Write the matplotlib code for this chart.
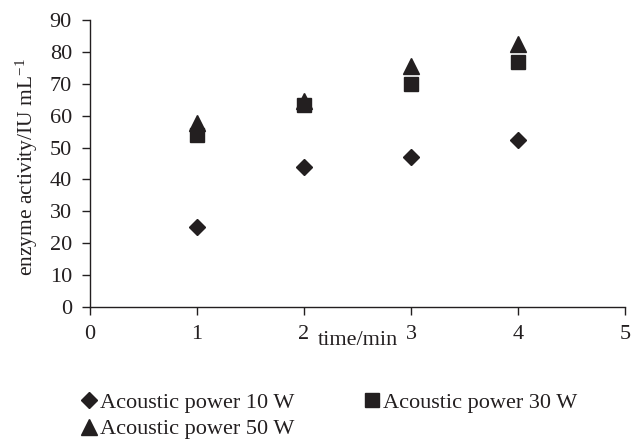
import matplotlib
matplotlib.use("Agg")
import matplotlib.pyplot as plt

plt.rcParams['font.family'] = ['Liberation Serif', 'DejaVu Serif']
plt.rcParams['mathtext.fontset'] = 'custom'
plt.rcParams['mathtext.rm'] = 'Liberation Serif'
plt.rcParams['mathtext.it'] = 'Liberation Serif:italic'

time = [1, 2, 3, 4]
p10 = [25.2, 44.0, 47.1, 52.4]
p30 = [53.9, 63.2, 70.0, 76.8]
p50 = [57.8, 64.7, 75.5, 82.6]
labels = ["Acoustic power 10 W", "Acoustic power 30 W", "Acoustic power 50 W"]

INK = '#231f20'
fig = plt.figure(figsize=(6.41, 4.43), dpi=100)
ax = fig.add_axes([90/641, 1-307/443, 535/641, 287/443])

h50, = ax.plot(time, p50, linestyle='none', marker='^', color=INK, markersize=11, zorder=2)
h30, = ax.plot(time, p30, linestyle='none', marker='s', color=INK, markersize=10.5, zorder=3)
h10, = ax.plot(time, p10, linestyle='none', marker='D', color=INK, markersize=8, zorder=3)

ax.set_xlim(0, 5)
ax.set_ylim(0, 90)
ax.set_xticks(range(0, 6))
ax.set_yticks(range(0, 91, 10))
for s in ['top', 'right']:
    ax.spines[s].set_visible(False)
for s in ['left', 'bottom']:
    ax.spines[s].set_color(INK)
    ax.spines[s].set_linewidth(1.0)
ax.tick_params(axis='both', direction='out', length=6, width=1.0, color=INK,
               labelsize=16, labelcolor=INK)
ax.tick_params(axis='x', pad=7)
ax.tick_params(axis='y', pad=7)

ax.text(228/535, -38/287, "time/min", transform=ax.transAxes, ha='left', va='baseline',
        fontsize=16, color=INK)
fig.text(27/641, 1-167/443, "enzyme activity/IU mL$^{\\mathrm{-1}}$", rotation=90,
         ha='center', va='center', fontsize=15.5, color=INK)

leg = fig.legend([h10, h50, h30], [labels[0], labels[2], labels[1]], ncol=2,
                 loc='center left', bbox_to_anchor=(78/641, 1-416/443), frameon=False,
                 fontsize=16, handletextpad=0.0, handlelength=1.0, columnspacing=3.0,
                 labelspacing=0.25, borderaxespad=0, borderpad=0, markerscale=1.0)
for t in leg.get_texts():
    t.set_color(INK)

fig.savefig("out.png", dpi=100)
